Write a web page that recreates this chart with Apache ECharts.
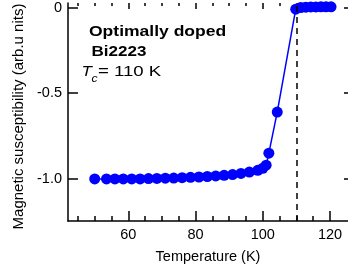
<!DOCTYPE html>
<html>
<head>
<meta charset="utf-8">
<script src="https://cdn.jsdelivr.net/npm/echarts@6/dist/echarts.min.js"></script>
<style>html,body{margin:0;padding:0;background:#fff;}#c{width:348px;height:271px;}</style>
</head>
<body>
<div id="c"></div>
<script>
var temps = [50, 53.5, 56, 58.5, 61, 63.5, 66, 68.5, 71, 73.5, 76, 78.5, 81, 83.5, 86, 88.5, 91, 93.5, 96, 98.5, 100, 101, 101.8, 104.3, 109.8, 111.3, 112.8, 114.3, 115.8, 117.3, 118.8, 120.3];
var chi = [-1.0, -1.0, -1.0, -1.0, -1.0, -1.0, -0.998, -0.997, -0.996, -0.995, -0.993, -0.991, -0.989, -0.986, -0.983, -0.979, -0.975, -0.968, -0.96, -0.95, -0.938, -0.92, -0.85, -0.61, -0.01, 0.0, 0.002, 0.003, 0.003, 0.004, 0.004, 0.004];
var xMajor = [60, 80, 100, 120];
var xMinor = [45, 50, 55, 65, 70, 75, 85, 90, 95, 105, 110, 115];
var yMajor = [-1.0, -0.5, 0];
var tcValue = 110;

var FONT = 'Liberation Sans, Arial, Helvetica, sans-serif';
var chart = echarts.init(document.getElementById('c'), null, {renderer: 'canvas'});
var xmin = 42.05, xmax = 125.35, ymin = -1.2457, ymax = 0.0259;
function xAx(pos, ticks, len, showLine, showLabel, extra) {
  var a = {
    type: 'value', min: xmin, max: xmax, position: pos,
    axisLine: {show: showLine, onZero: false, lineStyle: {color: '#000', width: 1.5}},
    axisTick: {show: true, inside: true, length: len, customValues: ticks, lineStyle: {color: '#000', width: 1.5}},
    axisLabel: {show: showLabel, customValues: ticks, color: '#000', fontSize: 14.5, fontFamily: FONT, margin: 6},
    splitLine: {show: false}
  };
  if (extra) for (var k in extra) a[k] = extra[k];
  return a;
}
function yAx(pos, showLine, len, showLabel) {
  return {
    type: 'value', min: ymin, max: ymax, position: pos,
    axisLine: {show: showLine, onZero: false, lineStyle: {color: '#000', width: 1.5}},
    axisTick: {show: true, inside: true, length: len, customValues: yMajor, lineStyle: {color: '#000', width: 1.5}},
    axisLabel: {show: showLabel, customValues: yMajor, color: '#000', fontSize: 14.5, fontFamily: FONT, margin: 6,
      formatter: function (v) { return v === 0 ? '0' : v.toFixed(1); }},
    splitLine: {show: false}
  };
}
var pts = temps.map(function (t, i) { return [t, chi[i]]; });
chart.setOption({
  animation: false,
  backgroundColor: '#fff',
  grid: {left: 68, right: 0, top: 0, bottom: 50, containLabel: false},
  xAxis: [
    xAx('bottom', xMajor, 10, true, true, {name: 'Temperature (K)', nameLocation: 'middle', nameGap: 28,
      nameTextStyle: {color: '#000', fontSize: 14.5, fontFamily: FONT}}),
    xAx('bottom', xMinor, 5, false, false),
    xAx('top', xMajor, 6, false, false),
    xAx('top', xMinor, 3, false, false)
  ],
  yAxis: [yAx('left', true, 10, true), yAx('right', false, 4, false)],
  series: [{
    type: 'line', data: pts, xAxisIndex: 0, yAxisIndex: 0,
    symbol: 'circle', symbolSize: 11, showSymbol: true,
    itemStyle: {color: '#0000ff'},
    lineStyle: {color: '#0000ff', width: 1.5},
    markLine: {
      silent: true, symbol: ['none', 'none'], label: {show: false},
      lineStyle: {color: '#000', type: [6, 5], width: 1.5},
      data: [{xAxis: tcValue}]
    },
    z: 2
  }],
  graphic: [
    {type: 'text', x: 18.5, y: 116.5, rotation: Math.PI / 2,
      style: {text: 'Magnetic susceptibility (arb.u nits)', fill: '#000', font: '15px ' + FONT, textAlign: 'center', textVerticalAlign: 'middle'}},
    {type: 'text', x: 89, y: 31.5, scaleX: 1.13,
      style: {text: 'Optimally doped', fill: '#000', font: 'bold 15.5px ' + FONT, textAlign: 'left', textVerticalAlign: 'middle'}},
    {type: 'text', x: 91.5, y: 51.5, scaleX: 1.1,
      style: {text: 'Bi2223', fill: '#000', font: 'bold 15.5px ' + FONT, textAlign: 'left', textVerticalAlign: 'middle'}},
    {type: 'text', x: 81.5, y: 72, scaleX: 1.1,
      style: {text: 'T', fill: '#000', font: 'italic 15.5px ' + FONT, textAlign: 'left', textVerticalAlign: 'middle'}},
    {type: 'text', x: 91.5, y: 78.5, scaleX: 1.1,
      style: {text: 'c', fill: '#000', font: 'italic 11px ' + FONT, textAlign: 'left', textVerticalAlign: 'middle'}},
    {type: 'text', x: 98, y: 72, scaleX: 1.2,
      style: {text: '= 110 K', fill: '#000', font: '15.5px ' + FONT, textAlign: 'left', textVerticalAlign: 'middle'}}
  ]
});
</script>
</body>
</html>
